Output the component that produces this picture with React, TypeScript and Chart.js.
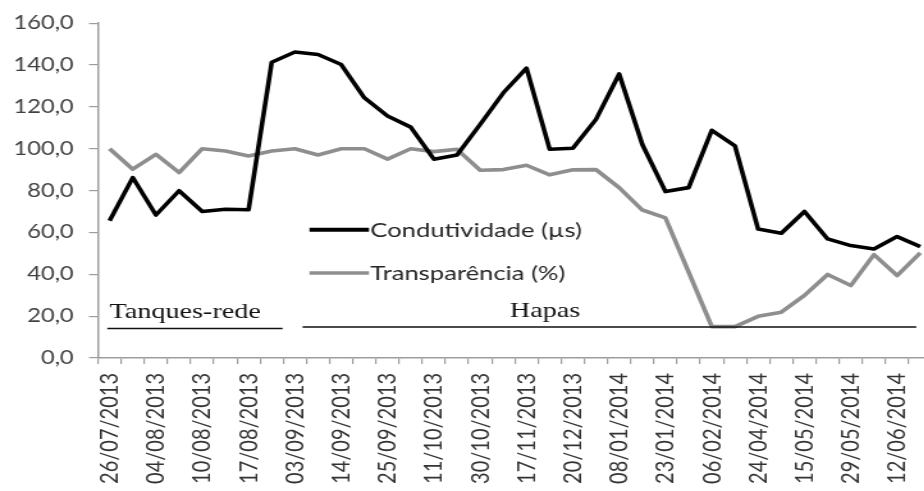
import React, { useEffect, useRef } from "react";
import { Chart, registerables } from "chart.js";

Chart.register(...registerables);

// Dates printed under the axis (every other sampling date is labelled)
const labeledDates = [
  "26/07/2013", "04/08/2013", "10/08/2013", "17/08/2013", "03/09/2013", "14/09/2013",
  "25/09/2013", "11/10/2013", "30/10/2013", "17/11/2013", "20/12/2013", "08/01/2014",
  "23/01/2014", "06/02/2014", "24/04/2014", "15/05/2014", "29/05/2014", "12/06/2014",
];
const categories = labeledDates.flatMap((d) => [d, ""]);

const condutividade = [
  65.6, 86.2, 68.3, 79.9, 70.0, 71.1, 70.8, 141.3, 146.2, 145.0, 140.2, 124.3,
  115.6, 110.3, 95.0, 97.0, 111.6, 126.7, 138.5, 99.7, 100.2, 114.0, 135.7, 102.0,
  79.5, 81.4, 108.8, 101.3, 61.6, 59.6, 70.0, 56.9, 53.7, 52.1, 58.0, 53.2,
];
const transparencia = [
  100.0, 90.2, 97.3, 88.6, 100.0, 98.9, 96.5, 98.9, 100.0, 97.0, 100.0, 100.0,
  95.0, 100.0, 98.6, 99.7, 89.7, 90.0, 92.1, 87.5, 89.9, 90.0, 81.4, 70.7,
  66.9, 41.0, 15.0, 15.0, 19.9, 21.9, 29.9, 39.9, 34.6, 49.4, 39.4, 50.2,
];

const seriesNames = ["Condutividade (µs)", "Transparência (%)"];
const seriesColors = ["#000000", "#8e8e8e"];
const groupNames = ["Tanques-rede", "Hapas"];

const yTicks = { min: 0, max: 160, step: 20 };

const SX = 1.28; // horizontal stretch of the original picture
const CANVAS_W = 728;
const CANVAS_H = 491;

const annotationPlugin = {
  id: "groupsAndLegend",
  afterDatasetsDraw(chart: any) {
    const { ctx } = chart;
    const x = chart.scales.x;
    const y = chart.scales.y;
    ctx.save();

    // group bars
    ctx.strokeStyle = "#111";
    ctx.lineWidth = 1.6;
    ctx.beginPath();
    ctx.moveTo(x.getPixelForValue(-0.1), y.getPixelForValue(14.1));
    ctx.lineTo(x.getPixelForValue(7.47), y.getPixelForValue(14.1));
    ctx.moveTo(x.getPixelForValue(8.33), y.getPixelForValue(14.8));
    ctx.lineTo(x.getPixelForValue(34.83), y.getPixelForValue(14.8));
    ctx.stroke();

    ctx.fillStyle = "#111";
    ctx.font = "22px 'Liberation Serif'";
    ctx.textBaseline = "alphabetic";
    ctx.textAlign = "left";
    ctx.fillText(groupNames[0], x.getPixelForValue(0.0), y.getPixelForValue(19.2));
    ctx.textAlign = "center";
    ctx.fillText(groupNames[1], x.getPixelForValue(18.8), y.getPixelForValue(19.8));

    // in-plot legend
    const legendY = [61.3, 40.6];
    const widths = [4, 3.5];
    ctx.font = "20px Lato";
    ctx.textAlign = "left";
    ctx.textBaseline = "middle";
    for (let i = 0; i < 2; i++) {
      const py = y.getPixelForValue(legendY[i]);
      const x0 = x.getPixelForValue(8.63);
      const x1 = x.getPixelForValue(11.2);
      ctx.strokeStyle = seriesColors[i];
      ctx.lineWidth = widths[i];
      ctx.beginPath();
      ctx.moveTo(x0, py);
      ctx.lineTo(x1, py);
      ctx.stroke();
      ctx.fillStyle = "#262626";
      ctx.fillText(seriesNames[i], x1 + 1, py + 1);
    }
    ctx.restore();
  },
};

export default function App() {
  const ref = useRef<HTMLCanvasElement>(null);
  useEffect(() => {
    if (!ref.current) return;
    const axisColor = "#9d9d9d";
    const chart = new Chart(ref.current, {
      type: "line",
      data: {
        labels: categories,
        datasets: [
          {
            label: seriesNames[0],
            data: condutividade,
            borderColor: seriesColors[0],
            borderWidth: 3.6,
            pointRadius: 0,
            tension: 0,
            borderJoinStyle: "round",
          },
          {
            label: seriesNames[1],
            data: transparencia,
            borderColor: seriesColors[1],
            borderWidth: 3.6,
            pointRadius: 0,
            tension: 0,
            borderJoinStyle: "round",
          },
        ],
      },
      options: {
        responsive: false,
        animation: false,
        devicePixelRatio: 1,
        layout: { padding: { top: 21.5, right: 0, left: 0, bottom: 0 } },
        plugins: { legend: { display: false }, tooltip: { enabled: false } },
        scales: {
          x: {
            offset: true,
            grid: {
              offset: true,
              drawOnChartArea: false,
              drawTicks: true,
              tickLength: 6,
              color: axisColor,
              lineWidth: 1.2,
            },
            border: { color: axisColor, width: 1.5 },
            ticks: {
              autoSkip: false,
              maxRotation: 90,
              minRotation: 90,
              padding: 9,
              color: "#333333",
              font: { family: "Lato", size: 20 },
            },
            afterFit: (s: any) => {
              s.height = 133;
              s.paddingLeft = 0;
              s.paddingRight = 0;
            },
          },
          y: {
            min: yTicks.min,
            max: yTicks.max,
            ticks: {
              stepSize: yTicks.step,
              callback: (v: any) => Number(v).toFixed(1).replace(".", ","),
              padding: 12,
              color: "#404040",
              font: { family: "Lato", size: 18.5 },
            },
            grid: {
              drawOnChartArea: false,
              drawTicks: true,
              tickLength: 7,
              color: axisColor,
              lineWidth: 1.2,
            },
            border: { color: axisColor, width: 1.5 },
            afterFit: (s: any) => {
              s.width = 98 / SX;
            },
          },
        },
      },
      plugins: [annotationPlugin],
    });
    return () => chart.destroy();
  }, []);

  return (
    <div
      style={{
        position: "fixed",
        left: 0,
        top: 0,
        width: 924,
        height: CANVAS_H,
        overflow: "hidden",
        background: "#ffffff",
      }}
    >
      <div
        style={{
          width: CANVAS_W,
          height: CANVAS_H,
          transform: `scaleX(${SX})`,
          transformOrigin: "0 0",
        }}
      >
        <canvas ref={ref} width={CANVAS_W} height={CANVAS_H} />
      </div>
    </div>
  );
}
